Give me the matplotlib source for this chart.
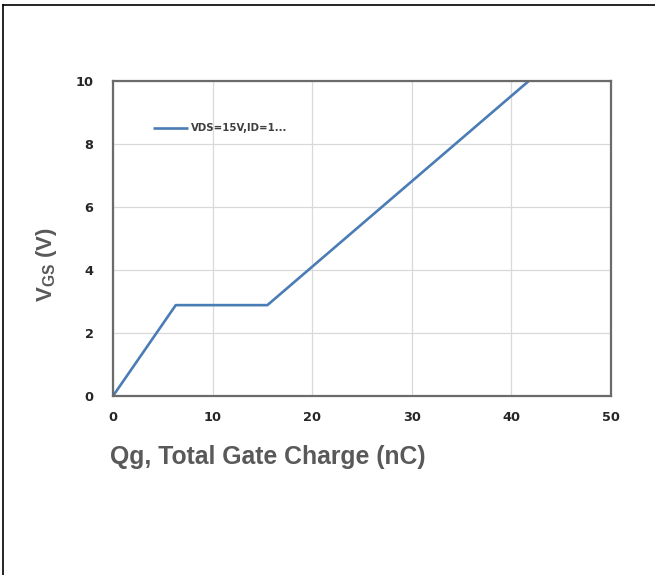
import matplotlib
matplotlib.use("Agg")
import matplotlib.pyplot as plt
from matplotlib.lines import Line2D

# gate charge curve
qg = [0, 6.3, 15.5, 41.8]
vgs = [0, 2.88, 2.88, 10]
series_label = "VDS=15V,ID=1..."
x_ticks = [0, 10, 20, 30, 40, 50]
y_ticks = [0, 2, 4, 6, 8, 10]

plt.rcParams['font.family'] = ['Liberation Sans', 'DejaVu Sans']
plt.rcParams['mathtext.fontset'] = 'custom'
plt.rcParams['mathtext.rm'] = 'Liberation Sans:bold'

W, H = 655, 575
fig = plt.figure(figsize=(W / 100, H / 100), dpi=100)
ax = fig.add_axes([113 / W, 1 - 396 / H, 498 / W, 315.5 / H])

ax.plot(qg, vgs, color='#4a7cb5', lw=1.9, label=series_label, solid_capstyle='butt')

ax.set_xlim(0, 50)
ax.set_ylim(0, 10)
ax.set_xticks(x_ticks)
ax.set_yticks(y_ticks)
ax.grid(True, color='#d9d9d9', lw=0.9)
ax.set_axisbelow(True)
for s in ax.spines.values():
    s.set_color('#6b6b6b')
    s.set_linewidth(1.6)
ax.tick_params(axis='both', length=0, labelcolor='#262626')
ax.tick_params(axis='y', pad=14)
ax.tick_params(axis='x', pad=11)
for t in ax.get_xticklabels() + ax.get_yticklabels():
    t.set_fontweight('bold')
    t.set_fontfamily('DejaVu Sans')
    t.set_fontsize(9.3)

ax.text(0.311, -0.193, "Qg, Total Gate Charge (nC)", transform=ax.transAxes,
        ha='center', va='center', fontsize=17.8, fontweight='bold', color='#595959')
ax.text(-0.1345, 0.415, r"V$_{\mathrm{GS}}$ (V)", transform=ax.transAxes,
        ha='center', va='center', rotation=90, fontsize=16, fontweight='bold',
        color='#595959')

leg = ax.legend(loc='center left', bbox_to_anchor=(0.08, 0.849), frameon=False,
                prop={'family': 'DejaVu Sans', 'weight': 'bold', 'size': 7.3},
                handlelength=3.45, handletextpad=0.3,
                borderpad=0, borderaxespad=0)
for t in leg.get_texts():
    t.set_color('#404040')

# outer frame (top and left only)
fig.add_artist(Line2D([2.5 / W, 1], [1 - 5 / H, 1 - 5 / H], color='black', lw=1.2))
fig.add_artist(Line2D([2.5 / W, 2.5 / W], [0, 1 - 5 / H], color='black', lw=1.2))

fig.savefig("out.png", dpi=100)
